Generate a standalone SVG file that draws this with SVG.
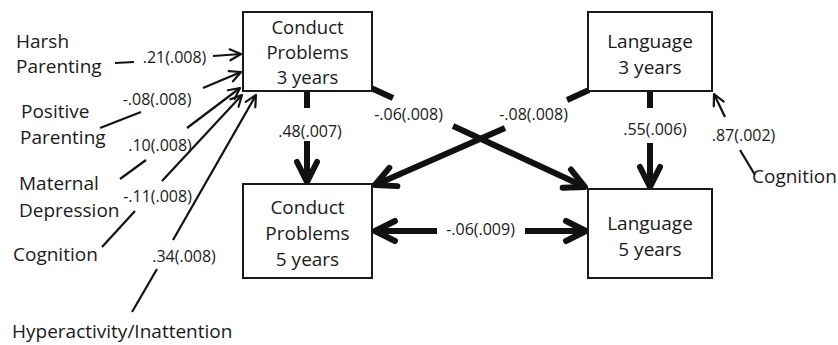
<svg xmlns="http://www.w3.org/2000/svg" width="838" height="345" viewBox="0 0 838 345">
<style>
.box{fill:#fff;stroke:#1a1a1a;stroke-width:2}
.nt{font-family:"Open Sans","Liberation Sans",sans-serif;font-size:19px;fill:#1a1a1a;text-anchor:middle}
.lt{font-family:"Open Sans","Liberation Sans",sans-serif;font-size:19px;fill:#1a1a1a}
.el{font-family:"Open Sans","Liberation Sans",sans-serif;font-size:16px;fill:#1a1a1a;text-anchor:middle}
.thin{fill:none;stroke:#111;stroke-width:2.2}
.thick{fill:none;stroke:#111;stroke-width:6}
</style>
<defs>
<marker id="ah" markerUnits="userSpaceOnUse" orient="auto" overflow="visible" markerWidth="1" markerHeight="1" refX="0" refY="0">
<path d="M-11,-5.5 L0,0 L-11,5.5" fill="none" stroke="#111" stroke-width="2.2" stroke-linecap="round" stroke-linejoin="round"/>
</marker>
<marker id="AH" markerUnits="userSpaceOnUse" orient="auto-start-reverse" overflow="visible" markerWidth="1" markerHeight="1" refX="0" refY="0">
<path d="M-20,-10 L0,0 L-20,10" fill="none" stroke="#111" stroke-width="6" stroke-linecap="round" stroke-linejoin="round"/>
</marker>
</defs>

<g id="connectors">
<line class="thin" x1="115" y1="63" x2="134" y2="62"/>
<line class="thin" x1="213" y1="56" x2="241" y2="54" marker-end="url(#ah)"/>
<line class="thin" x1="100" y1="128" x2="141" y2="112"/>
<line class="thin" x1="203" y1="88" x2="241" y2="72" marker-end="url(#ah)"/>
<line class="thin" x1="120" y1="179" x2="146" y2="160"/>
<line class="thin" x1="187" y1="128" x2="240" y2="88" marker-end="url(#ah)"/>
<line class="thin" x1="102" y1="247" x2="135" y2="211"/>
<line class="thin" x1="162" y1="181" x2="242" y2="95" marker-end="url(#ah)"/>
<line class="thin" x1="132" y1="312" x2="157" y2="269"/>
<line class="thin" x1="173" y1="240" x2="256" y2="95" marker-end="url(#ah)"/>
<line class="thin" x1="755" y1="175" x2="740" y2="150"/>
<line class="thin" x1="725" y1="117" x2="714" y2="94" marker-end="url(#ah)"/>
<line class="thick" x1="307" y1="91" x2="307" y2="108"/>
<line class="thick" x1="307" y1="141" x2="307" y2="182" marker-end="url(#AH)"/>
<line class="thick" x1="650" y1="91" x2="650" y2="108"/>
<line class="thick" x1="650" y1="143" x2="650" y2="187" marker-end="url(#AH)"/>
<line class="thick" x1="371" y1="88" x2="393" y2="98"/>
<line class="thick" x1="453" y1="126" x2="585" y2="187" marker-end="url(#AH)"/>
<line class="thick" x1="589" y1="90" x2="567" y2="100"/>
<line class="thick" x1="505" y1="128" x2="375" y2="185" marker-end="url(#AH)"/>
<line class="thick" x1="375" y1="231" x2="437" y2="231" marker-start="url(#AH)"/>
<line class="thick" x1="525" y1="231" x2="586" y2="231" marker-end="url(#AH)"/>
</g>

<g id="edge-labels">
<text class="el" x="174.5" y="63">.21(.008)</text>
<text class="el" x="157" y="105">-.08(.008)</text>
<text class="el" x="160" y="151">.10(.008)</text>
<text class="el" x="157.5" y="202">-.11(.008)</text>
<text class="el" x="184" y="262">.34(.008)</text>
<text class="el" x="310" y="137">.48(.007)</text>
<text class="el" x="408.5" y="120">-.06(.008)</text>
<text class="el" x="533.5" y="120">-.08(.008)</text>
<text class="el" x="655" y="135">.55(.006)</text>
<text class="el" x="743.5" y="141">.87(.002)</text>
<text class="el" x="480.5" y="235">-.06(.009)</text>
</g>

<g id="harsh-parenting"><text class="lt" x="16" y="48">Harsh</text><text class="lt" x="16" y="73">Parenting</text></g>
<g id="positive-parenting"><text class="lt" x="21" y="118">Positive</text><text class="lt" x="20" y="144">Parenting</text></g>
<g id="maternal-depression"><text class="lt" x="19" y="190">Maternal</text><text class="lt" x="19" y="217">Depression</text></g>
<g id="cognition-left"><text class="lt" x="13" y="261">Cognition</text></g>
<g id="hyperactivity"><text class="lt" x="12" y="338">Hyperactivity/Inattention</text></g>
<g id="cognition-right"><text class="lt" x="752" y="183">Cognition</text></g>

<g id="conduct-3">
<rect class="box" x="243" y="12" width="129" height="79"/>
<text class="nt" x="307.5" y="34" style="font-size:18.5px">Conduct</text>
<text class="nt" x="307.5" y="59" style="font-size:18.5px">Problems</text>
<text class="nt" x="307.5" y="84" style="font-size:18.5px">3 years</text>
</g>
<g id="conduct-5">
<rect class="box" x="243" y="184" width="129" height="94"/>
<text class="nt" x="307.5" y="214">Conduct</text>
<text class="nt" x="307.5" y="240">Problems</text>
<text class="nt" x="307.5" y="266">5 years</text>
</g>
<g id="language-3">
<rect class="box" x="588" y="12" width="124" height="79"/>
<text class="nt" x="650" y="48">Language</text>
<text class="nt" x="650" y="74">3 years</text>
</g>
<g id="language-5">
<rect class="box" x="588" y="189" width="124" height="89"/>
<text class="nt" x="650" y="230">Language</text>
<text class="nt" x="650" y="256">5 years</text>
</g>
</svg>
